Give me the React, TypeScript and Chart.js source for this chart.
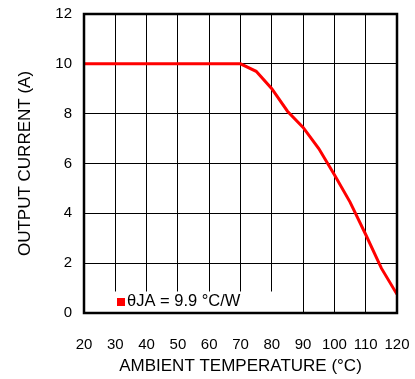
import React, { useEffect, useRef } from 'react';
import { Chart, registerables } from 'chart.js';

Chart.register(...registerables);

const temperatures = [20, 70, 75, 80, 85, 90, 95, 100, 105, 110, 115, 120];
const currents = [10, 10, 9.7, 9.0, 8.1, 7.45, 6.6, 5.55, 4.45, 3.15, 1.8, 0.75];
const seriesLabel = 'θJA = 9.9 °C/W';
const xTitle = 'AMBIENT TEMPERATURE (°C)';
const yTitle = 'OUTPUT CURRENT (A)';

const FAMILY = '"Liberation Sans", Arial, Helvetica, sans-serif';

export default function App() {
  const ref = useRef<HTMLCanvasElement>(null);

  useEffect(() => {
    document.body.style.margin = '0';
    document.body.style.overflow = 'hidden';
    const canvas = ref.current;
    if (!canvas) return;

    const insideLegend = {
      id: 'insideLegend',
      beforeDatasetsDraw(chart: any) {
        const { ctx, chartArea: a } = chart;
        const ds = chart.data.datasets[0];
        ctx.save();
        ctx.fillStyle = '#ffffff';
        ctx.fillRect(a.left + 1, a.bottom - 21.5, 187, 20.5);
        ctx.fillStyle = ds.borderColor;
        ctx.fillRect(a.left + 33, a.bottom - 15, 8, 8);
        ctx.fillStyle = '#000';
        ctx.font = `16.5px ${FAMILY}`;
        ctx.textBaseline = 'middle';
        ctx.textAlign = 'left';
        ctx.fillText(ds.label, a.left + 43, a.bottom - 12);
        ctx.restore();
      },
      afterDatasetsDraw(chart: any) {
        const { ctx, chartArea: a } = chart;
        ctx.save();
        ctx.strokeStyle = '#000';
        ctx.lineWidth = 2.5;
        ctx.strokeRect(a.left, a.top, a.right - a.left, a.bottom - a.top);
        ctx.restore();
      },
    };

    const chart = new Chart(canvas, {
      type: 'line',
      data: {
        datasets: [
          {
            label: seriesLabel,
            data: temperatures.map((t, i) => ({ x: t, y: currents[i] })),
            borderColor: '#ff0000',
            backgroundColor: '#ff0000',
            borderWidth: 3,
            pointRadius: 0,
            tension: 0,
          },
        ],
      },
      options: {
        animation: false,
        responsive: true,
        maintainAspectRatio: false,
        layout: { padding: { left: 0, right: 18, top: 14, bottom: 0 } },
        plugins: { legend: { display: false }, tooltip: { enabled: false } },
        scales: {
          x: {
            type: 'linear',
            min: 20,
            max: 120,
            afterFit: (s: any) => {
              s.height = 66;
              s.paddingLeft = 0;
              s.paddingRight = 0;
            },
            ticks: { stepSize: 10, padding: 23, color: '#000', font: { family: FAMILY, size: 15 }, maxRotation: 0, autoSkip: false },
            grid: { color: '#000', lineWidth: 1, drawTicks: false },
            border: { display: false },
            title: { display: true, text: xTitle, color: '#000', font: { family: FAMILY, size: 17 }, padding: { top: 0, bottom: 2 } },
          },
          y: {
            type: 'linear',
            min: 0,
            max: 12,
            afterFit: (s: any) => {
              s.width = 84;
              s.paddingTop = 0;
              s.paddingBottom = 0;
            },
            ticks: { stepSize: 2, padding: 12, color: '#000', font: { family: FAMILY, size: 15 } },
            grid: { color: '#000', lineWidth: 1, drawTicks: false },
            border: { display: false },
            title: { display: true, text: yTitle, color: '#000', font: { family: FAMILY, size: 17 }, padding: { top: 15, bottom: 0 } },
          },
        },
      },
      plugins: [insideLegend],
    });

    return () => chart.destroy();
  }, []);

  return (
    <div style={{ width: 415, height: 379, position: 'relative' }}>
      <canvas ref={ref} />
    </div>
  );
}
